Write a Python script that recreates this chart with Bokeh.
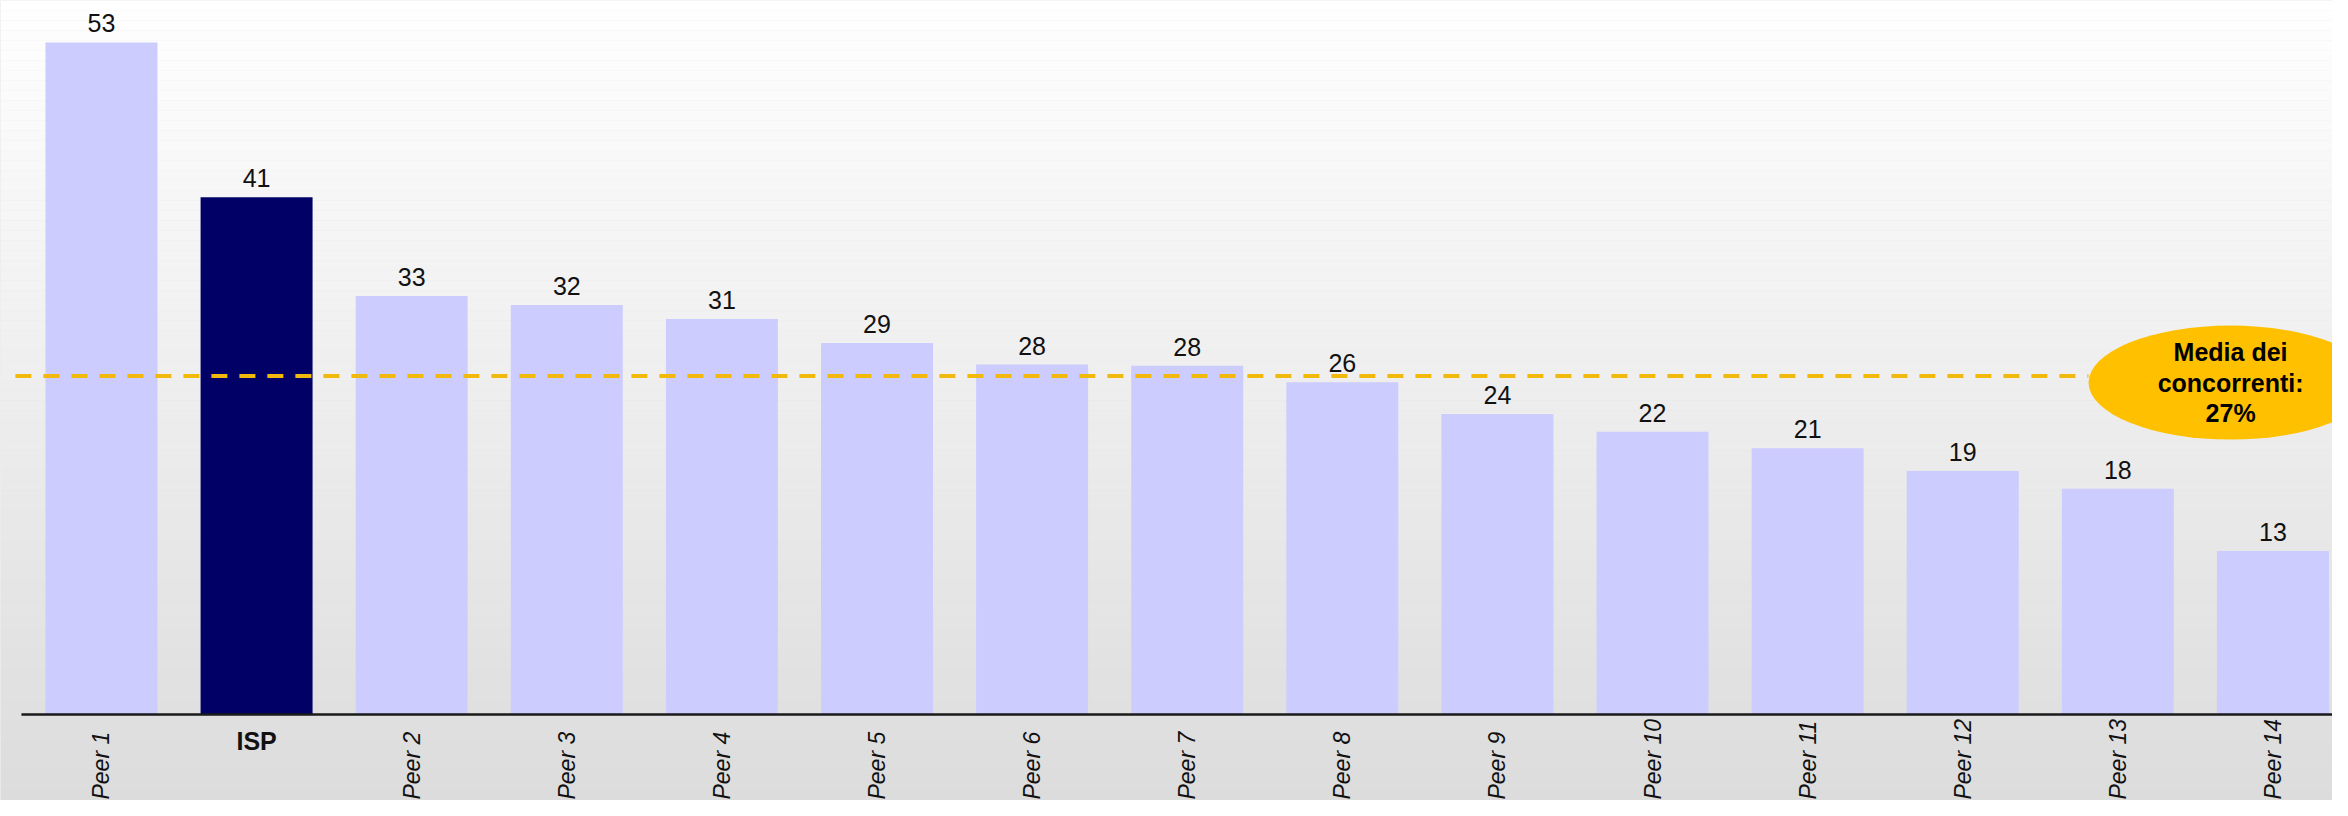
import math
from bokeh.plotting import figure
from bokeh.models import ColumnDataSource, Range1d
from bokeh.core.properties import value
from bokeh.embed import file_html
from bokeh.resources import INLINE

# ---- data ----
categories = ["Peer 1", "ISP", "Peer 2", "Peer 3", "Peer 4", "Peer 5", "Peer 6", "Peer 7",
              "Peer 8", "Peer 9", "Peer 10", "Peer 11", "Peer 12", "Peer 13", "Peer 14"]
values = [53.0, 40.8, 33.0, 32.3, 31.2, 29.3, 27.6, 27.5, 26.2, 23.7, 22.3, 21.0, 19.2, 17.8, 12.9]
value_labels = ["53", "41", "33", "32", "31", "29", "28", "28", "26", "24", "22", "21", "19", "18", "13"]
highlight = "ISP"
peer_average = 26.7
average_label = "Media dei\nconcorrenti:\n27%"

# ---- styling ----
FONT = "Liberation Sans"
BAR_COLOR = "#CCCCFF"
HIGHLIGHT_COLOR = "#000066"
AVG_LINE_COLOR = "#F0B90B"
BUBBLE_COLOR = "#FFC000"

W, H = 2332, 800
x_start, x_end = -0.651, 14.384
y_start, y_end = -6.78, 56.31

p = figure(width=W, height=H, x_range=Range1d(x_start, x_end), y_range=Range1d(y_start, y_end),
           output_backend="svg", toolbar_location=None, x_axis_location=None, y_axis_location=None,
           min_border=0, outline_line_color=None,
           background_fill_color="#DBDBDB", border_fill_color="#DBDBDB")
p.xgrid.visible = False
p.ygrid.visible = False

# background gradient (decoration): white at top to light grey at bottom
n_bands = 80
span = y_end - y_start
band_bottoms, band_tops, band_colors = [], [], []
for i in range(n_bands):
    top = y_end - span * i / n_bands
    bot = y_end - span * (i + 1) / n_bands
    frac = (i + 0.5) / n_bands
    c = int(round(255 - (255 - 220) * frac))
    band_bottoms.append(bot)
    band_tops.append(top + 0.01)
    band_colors.append("#%02x%02x%02x" % (c, c, c))
p.quad(left=x_start, right=x_end, bottom=band_bottoms, top=band_tops,
       fill_color=band_colors, line_color=None)

xs = list(range(len(categories)))
colors = [HIGHLIGHT_COLOR if c == highlight else BAR_COLOR for c in categories]
src = ColumnDataSource(dict(x=xs, top=values, cat=categories, lab=value_labels, color=colors))

p.vbar(x="x", top="top", bottom=0, width=0.722, fill_color="color", line_color=None, source=src)

# value labels (screen offsets: positive = down)
p.text(x="x", y="top", text="lab", source=src, text_align="center", text_baseline="alphabetic",
       y_offset=-19, text_font=value(FONT), text_font_size="25px", text_color="#111111")

# axis line
p.segment(x0=-0.516, y0=0, x1=x_end, y1=0, line_color="#1a1a1a", line_width=2.5)

# category labels
peer_idx = [i for i, c in enumerate(categories) if c != highlight]
hi_idx = [i for i, c in enumerate(categories) if c == highlight]
p.text(x=[xs[i] for i in peer_idx], y=0, text=[categories[i] for i in peer_idx],
       angle=math.pi / 2, text_align="left", text_baseline="middle", y_offset=85,
       text_font=value(FONT), text_font_style="italic", text_font_size="23px", text_color="#111111")
p.text(x=[xs[i] for i in hi_idx], y=0, text=[categories[i] for i in hi_idx],
       text_align="center", text_baseline="alphabetic", y_offset=26,
       text_font=value(FONT), text_font_style="bold", text_font_size="25px", text_color="#111111")

# peer average line and bubble
bubble_x = 13.727
bubble_y = 26.18
p.segment(x0=-0.555, y0=peer_average, x1=12.81, y1=peer_average,
          line_color=AVG_LINE_COLOR, line_width=4, line_dash="16 12")
p.ellipse(x=bubble_x, y=bubble_y, width=284, height=114, width_units="screen", height_units="screen",
          fill_color=BUBBLE_COLOR, line_color=None)
p.text(x=bubble_x, y=bubble_y, text=[average_label], text_align="center", text_baseline="middle",
       text_font=value(FONT), text_font_style="bold", text_font_size="25px", text_color="#000000",
       text_line_height=1.1)

open("out.html", "w").write(file_html(p, INLINE))
